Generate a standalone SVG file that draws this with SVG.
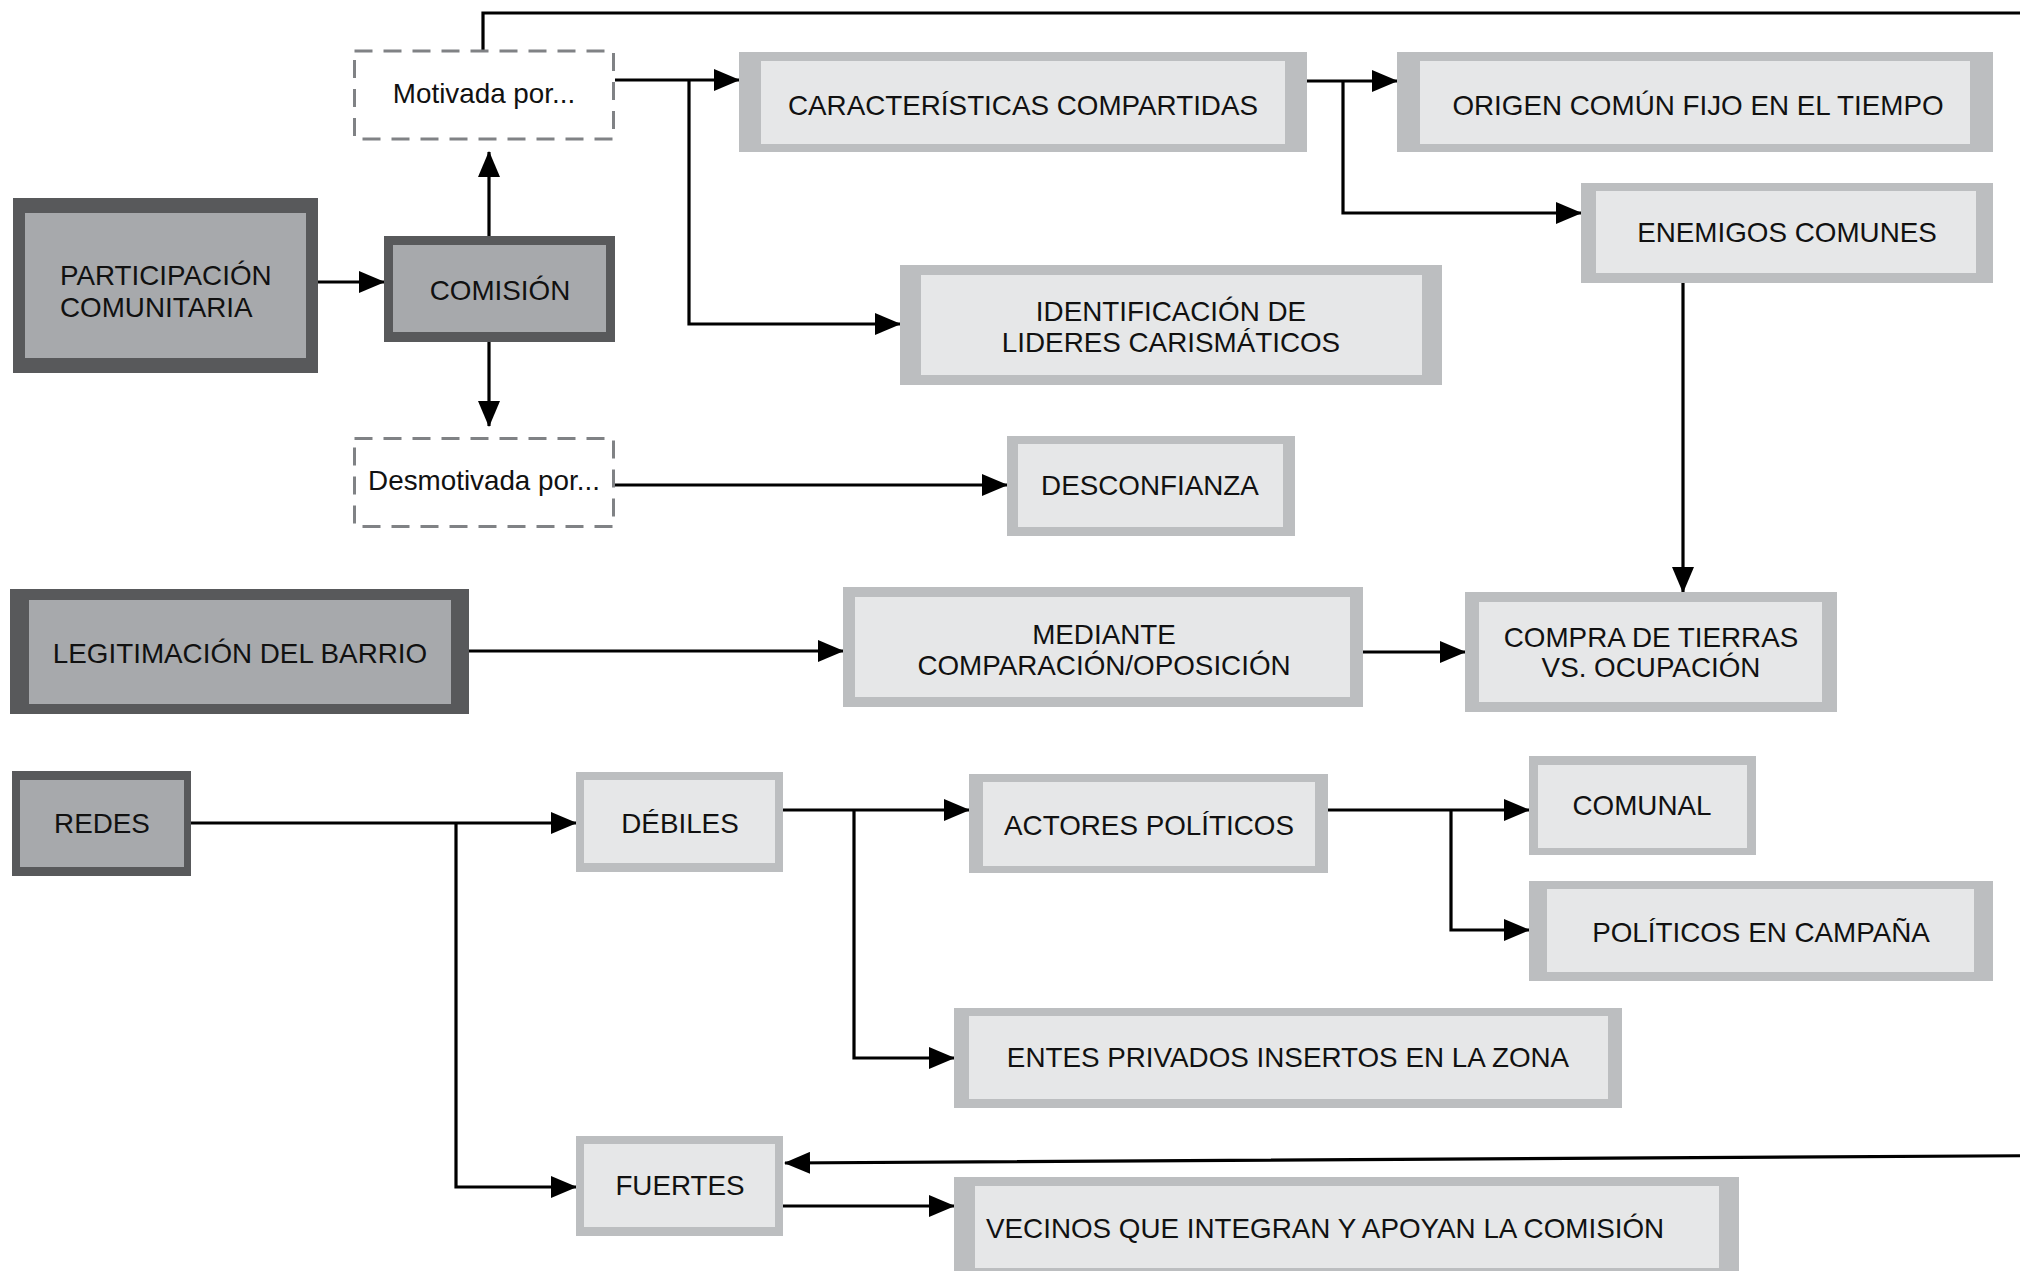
<svg xmlns="http://www.w3.org/2000/svg" width="2020" height="1271" viewBox="0 0 2020 1271">
<defs>
<style>
.dko{fill:#58595b}.dki{fill:#a7a9ac}.lto{fill:#bcbec0}.lti{fill:#e6e7e8}
.dash{fill:#fff;stroke:#808285;stroke-width:3;stroke-dasharray:18 11}
text{font-family:"Liberation Sans",Arial,Helvetica,sans-serif;font-size:27.8px;fill:#111}
.c{text-anchor:middle}
.ln{fill:none;stroke:#000;stroke-width:3.2}
.ar{marker-end:url(#arr)}
</style>
<marker id="arr" markerUnits="userSpaceOnUse" viewBox="0 0 26 22" markerWidth="26" markerHeight="22" refX="25" refY="11" orient="auto">
<path d="M0,0 L26,11 L0,22 z" fill="#000"/>
</marker>
</defs>
<rect width="2020" height="1271" fill="#fff"/>

<g id="connectors">
<path class="ln ar" d="M483,50 V13 H2060 V1155.5 L785,1163"/>
<path class="ln ar" d="M615,80 H739"/>
<path class="ln ar" d="M689,80 V324 H900"/>
<path class="ln ar" d="M489,236 V152"/>
<path class="ln ar" d="M489,342 V426"/>
<path class="ln ar" d="M317,282 H384"/>
<path class="ln ar" d="M615,485 H1007"/>
<path class="ln ar" d="M1307,81 H1397"/>
<path class="ln ar" d="M1343,81 V213 H1581"/>
<path class="ln ar" d="M1683,283 V592"/>
<path class="ln ar" d="M469,651 H843"/>
<path class="ln ar" d="M1363,652 H1465"/>
<path class="ln ar" d="M191,823 H576"/>
<path class="ln ar" d="M456,823 V1187 H576"/>
<path class="ln ar" d="M783,810 H969"/>
<path class="ln ar" d="M854,810 V1058 H954"/>
<path class="ln ar" d="M1328,810 H1529"/>
<path class="ln ar" d="M1451,810 V930 H1529"/>
<path class="ln ar" d="M783,1206 H954"/>
</g>

<g id="participacion">
<rect class="dko" x="13" y="198" width="305" height="175"/>
<rect class="dki" x="25" y="213" width="281" height="145"/>
<text x="60" y="285">PARTICIPACIÓN</text>
<text x="60" y="317">COMUNITARIA</text>
</g>
<g id="comision">
<rect class="dko" x="384" y="236" width="231" height="106"/>
<rect class="dki" x="393" y="245" width="213" height="87"/>
<text class="c" x="500" y="300">COMISIÓN</text>
</g>
<g id="motivada">
<rect class="dash" x="354.5" y="51" width="259" height="88"/>
<text class="c" x="484" y="103">Motivada por...</text>
</g>
<g id="desmotivada">
<rect class="dash" x="354.5" y="438.5" width="259" height="88"/>
<text class="c" x="484" y="490">Desmotivada por...</text>
</g>
<g id="caracteristicas">
<rect class="lto" x="739" y="52" width="568" height="100"/>
<rect class="lti" x="761" y="61" width="524" height="83"/>
<text class="c" x="1023" y="115">CARACTERÍSTICAS COMPARTIDAS</text>
</g>
<g id="origen">
<rect class="lto" x="1397" y="52" width="596" height="100"/>
<rect class="lti" x="1420" y="61" width="550" height="83"/>
<text class="c" x="1698" y="115">ORIGEN COMÚN FIJO EN EL TIEMPO</text>
</g>
<g id="enemigos">
<rect class="lto" x="1581" y="183" width="412" height="100"/>
<rect class="lti" x="1596" y="191" width="380" height="82"/>
<text class="c" x="1787" y="242">ENEMIGOS COMUNES</text>
</g>
<g id="identificacion">
<rect class="lto" x="900" y="265" width="542" height="120"/>
<rect class="lti" x="921" y="275" width="501" height="100"/>
<text class="c" x="1171" y="321">IDENTIFICACIÓN DE</text>
<text class="c" x="1171" y="352">LIDERES CARISMÁTICOS</text>
</g>
<g id="desconfianza">
<rect class="lto" x="1007" y="436" width="288" height="100"/>
<rect class="lti" x="1018" y="444" width="265" height="83"/>
<text class="c" x="1150" y="495">DESCONFIANZA</text>
</g>
<g id="legitimacion">
<rect class="dko" x="10" y="589" width="459" height="125"/>
<rect class="dki" x="29" y="600" width="422" height="104"/>
<text class="c" x="240" y="663">LEGITIMACIÓN DEL BARRIO</text>
</g>
<g id="mediante">
<rect class="lto" x="843" y="587" width="520" height="120"/>
<rect class="lti" x="855" y="597" width="495" height="100"/>
<text class="c" x="1104" y="644">MEDIANTE</text>
<text class="c" x="1104" y="675">COMPARACIÓN/OPOSICIÓN</text>
</g>
<g id="compra">
<rect class="lto" x="1465" y="592" width="372" height="120"/>
<rect class="lti" x="1479" y="602" width="343" height="100"/>
<text class="c" x="1651" y="647">COMPRA DE TIERRAS</text>
<text class="c" x="1651" y="677">VS. OCUPACIÓN</text>
</g>
<g id="redes">
<rect class="dko" x="12" y="771" width="179" height="105"/>
<rect class="dki" x="20" y="780" width="164" height="87"/>
<text class="c" x="102" y="833">REDES</text>
</g>
<g id="debiles">
<rect class="lto" x="576" y="772" width="207" height="100"/>
<rect class="lti" x="584" y="780" width="191" height="83"/>
<text class="c" x="680" y="833">DÉBILES</text>
</g>
<g id="actores">
<rect class="lto" x="969" y="774" width="359" height="99"/>
<rect class="lti" x="983" y="782" width="332" height="84"/>
<text class="c" x="1149" y="835">ACTORES POLÍTICOS</text>
</g>
<g id="comunal">
<rect class="lto" x="1529" y="756" width="227" height="99"/>
<rect class="lti" x="1538" y="765" width="209" height="83"/>
<text class="c" x="1642" y="815">COMUNAL</text>
</g>
<g id="politicos">
<rect class="lto" x="1529" y="881" width="464" height="100"/>
<rect class="lti" x="1547" y="889" width="427" height="83"/>
<text class="c" x="1761" y="942">POLÍTICOS EN CAMPAÑA</text>
</g>
<g id="entes">
<rect class="lto" x="954" y="1008" width="668" height="100"/>
<rect class="lti" x="969" y="1016" width="639" height="83"/>
<text class="c" x="1288" y="1067">ENTES PRIVADOS INSERTOS EN LA ZONA</text>
</g>
<g id="fuertes">
<rect class="lto" x="576" y="1136" width="207" height="100"/>
<rect class="lti" x="584" y="1144" width="191" height="83"/>
<text class="c" x="680" y="1195">FUERTES</text>
</g>
<g id="vecinos">
<rect class="lto" x="954" y="1177" width="785" height="100"/>
<rect class="lti" x="975" y="1186" width="744" height="82"/>
<text x="986" y="1238">VECINOS QUE INTEGRAN Y APOYAN LA COMISIÓN</text>
</g>
</svg>
